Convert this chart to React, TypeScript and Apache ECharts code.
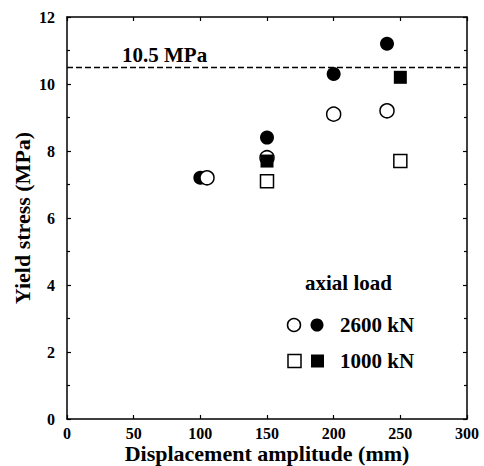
import React, { useEffect, useRef } from "react";
import * as echarts from "echarts";

const openCircles: [number, number][] = [[105, 7.2], [150, 7.8], [200, 9.1], [240, 9.2]];
const filledCircles: [number, number][] = [[100, 7.2], [150, 8.4], [200, 10.3], [240, 11.2]];
const openSquares: [number, number][] = [[150, 7.1], [250, 7.7]];
const filledSquares: [number, number][] = [[150, 7.7], [250, 10.2]];
const refLine = 10.5;
const refLabel = "10.5 MPa";
const legendTitle = "axial load";
const legendLabels = ["2600 kN", "1000 kN"];

const FONT = "Liberation Serif";

export default function App() {
  const ref = useRef<HTMLDivElement>(null);
  useEffect(() => {
    if (!ref.current) return;
    const chart = echarts.init(ref.current, null, { renderer: "svg" });
    const axisBase = {
      axisLine: { show: true, onZero: false, lineStyle: { color: "#000", width: 1.5 } },
      splitLine: { show: false },
    };
    const xBase = { type: "value" as const, min: 0, max: 300, interval: 50, ...axisBase };
    const yBase = { type: "value" as const, min: 0, max: 12, interval: 2, ...axisBase };
    const labelStyle = { color: "#000", fontFamily: FONT, fontWeight: "bold" as const, fontSize: 16 };
    const tick = { inside: true, length: 4, lineStyle: { color: "#000", width: 1.2 } };
    const minor = { show: true, splitNumber: 2, length: 3, lineStyle: { color: "#000", width: 1.2 } };
    chart.setOption({
      animation: false,
      backgroundColor: "#fff",
      grid: { left: 67, right: 17, top: 17, bottom: 47, outerBoundsMode: "none", containLabel: false },
      xAxis: [
        {
          ...xBase,
          position: "bottom",
          axisTick: tick,
          axisLabel: { ...labelStyle, margin: 6 },
          name: "Displacement amplitude (mm)",
          nameLocation: "middle",
          nameGap: 23,
          nameMoveOverlap: false,
          nameTextStyle: { color: "#000", fontFamily: FONT, fontWeight: "bold", fontSize: 22 },
        },
        {
          ...xBase,
          position: "top",
          axisTick: tick,
          axisLabel: { show: false },
        },
      ],
      yAxis: [
        {
          ...yBase,
          position: "left",
          axisTick: tick,
          minorTick: minor,
          axisLabel: { ...labelStyle, margin: 12 },
          name: "Yield stress (MPa)",
          nameLocation: "middle",
          nameGap: 34,
          nameMoveOverlap: false,
          nameTextStyle: { color: "#000", fontFamily: FONT, fontWeight: "bold", fontSize: 22 },
        },
        {
          ...yBase,
          position: "right",
          axisTick: tick,
          minorTick: minor,
          axisLabel: { show: false },
        },
      ],
      series: [
        {
          type: "scatter",
          data: filledCircles,
          symbol: "circle",
          symbolSize: 14,
          itemStyle: { color: "#000", opacity: 1 },
          markLine: {
            silent: true,
            symbol: "none",
            label: { show: false },
            lineStyle: { color: "#000", type: [6, 3], width: 1.3, opacity: 1 },
            data: [{ yAxis: refLine }],
          },
        },
        {
          type: "scatter",
          data: openCircles,
          symbol: "circle",
          symbolSize: 14,
          itemStyle: { color: "#fff", borderColor: "#000", borderWidth: 1.5, opacity: 1 },
        },
        {
          type: "scatter",
          data: filledSquares,
          symbol: "rect",
          symbolSize: 13,
          itemStyle: { color: "#000", opacity: 1 },
        },
        {
          type: "scatter",
          data: openSquares,
          symbol: "rect",
          symbolSize: 13,
          itemStyle: { color: "#fff", borderColor: "#000", borderWidth: 1.5, opacity: 1 },
        },
      ],
      graphic: [
        {
          type: "text",
          left: 122,
          top: 44,
          style: { text: refLabel, fill: "#000", font: `bold 21px "${FONT}"` },
        },
        {
          type: "text",
          left: 305,
          top: 272,
          style: { text: legendTitle, fill: "#000", font: `bold 21px "${FONT}"` },
        },
        {
          type: "circle",
          shape: { cx: 294, cy: 325, r: 6.5 },
          style: { fill: "#fff", stroke: "#000", lineWidth: 1.5 },
        },
        {
          type: "circle",
          shape: { cx: 317, cy: 325, r: 6.5 },
          style: { fill: "#000" },
        },
        {
          type: "text",
          left: 340,
          top: 314,
          style: { text: legendLabels[0], fill: "#000", font: `bold 21px "${FONT}"` },
        },
        {
          type: "rect",
          shape: { x: 288, y: 361 - 6.5, width: 13, height: 13 },
          style: { fill: "#fff", stroke: "#000", lineWidth: 1.5 },
        },
        {
          type: "rect",
          shape: { x: 311, y: 361 - 6.5, width: 13, height: 13 },
          style: { fill: "#000" },
        },
        {
          type: "text",
          left: 340,
          top: 350,
          style: { text: legendLabels[1], fill: "#000", font: `bold 21px "${FONT}"` },
        },
      ],
    });
    return () => chart.dispose();
  }, []);
  return <div ref={ref} style={{ width: 484, height: 466, position: "absolute", left: 0, top: 0 }} />;
}
